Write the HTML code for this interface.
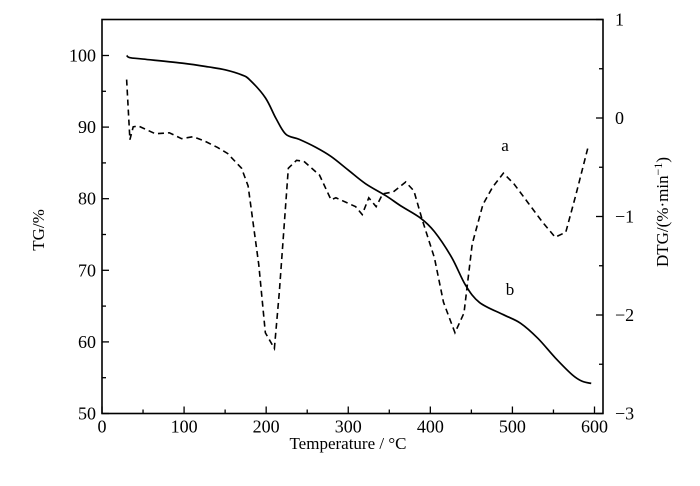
<!DOCTYPE html>
<html><head><meta charset="utf-8"><style>
html,body{margin:0;padding:0;background:#fff;}
svg text{font-family:"Liberation Serif",serif;fill:#000;}
</style></head><body>
<svg id="chart" width="700" height="481">
<g id="axes"></g><g id="series"></g>
<text x="505" y="151" font-size="17" text-anchor="middle">a</text>
<text x="510" y="295" font-size="17" text-anchor="middle">b</text>
<text transform="translate(44,230) rotate(-90)" font-size="17" text-anchor="middle">TG/%</text>
<text transform="translate(668,212) rotate(-90)" font-size="17" text-anchor="middle">DTG/(%·min<tspan dy="-6" font-size="12">−1</tspan><tspan dy="6">)</tspan></text>
<text x="348" y="449" font-size="17" text-anchor="middle">Temperature / °C</text>
</svg>
<script>
const tgTemps=[30,34,50,100,130,150,170,180,199,212,224,240,260,279,300,321,346,364,388,405,426,443,460,489,510,531,552,573,585,596];
const tgValues=[100,99.7,99.5,98.9,98.4,98.0,97.3,96.6,94.1,91.2,89.0,88.3,87.2,85.9,84.0,82.1,80.4,79.0,77.3,75.4,71.8,67.9,65.5,63.8,62.6,60.5,57.8,55.4,54.5,54.2];
const dtgTemps=[30,34,38,44,65,82,97,111,124,141,153,170,178,191,199,210,216,227,237,246,265,279,285,309,317,325,334,342,355,370,380,390,405,416,430,441,451,464,476,489,502,519,536,552,565,577,592];
const dtgValues=[0.39,-0.22,-0.09,-0.08,-0.16,-0.15,-0.21,-0.19,-0.23,-0.30,-0.36,-0.51,-0.69,-1.49,-2.18,-2.34,-1.77,-0.51,-0.43,-0.44,-0.58,-0.83,-0.81,-0.90,-0.98,-0.81,-0.90,-0.77,-0.75,-0.65,-0.74,-1.03,-1.42,-1.87,-2.18,-1.98,-1.28,-0.88,-0.70,-0.56,-0.67,-0.86,-1.05,-1.21,-1.16,-0.79,-0.30];
const xTicks=[0,100,200,300,400,500,600];
const yLeftTicks=[50,60,70,80,90,100];
const yRightTicks=[-3,-2,-1,0,1];
const NS="http://www.w3.org/2000/svg";
const L=102,R=603,T=19.5,B=413.5;
const xs=t=>102+t*(594.5-102)/600;
const yl=v=>413.5-(v-50)*(413.5-55.5)/50;
const yr=v=>413.5-(v+3)*(413.5-19.5)/4;
function mk(tag,attrs,parent){const e=document.createElementNS(NS,tag);for(const k in attrs)e.setAttribute(k,attrs[k]);parent.appendChild(e);return e;}
function smooth(p){let d='M'+p[0][0]+','+p[0][1];for(let i=0;i<p.length-1;i++){const a=p[Math.max(i-1,0)],b=p[i],c=p[i+1],e=p[Math.min(i+2,p.length-1)];
d+=' C'+(b[0]+(c[0]-a[0])/6)+','+(b[1]+(c[1]-a[1])/6)+' '+(c[0]-(e[0]-b[0])/6)+','+(c[1]-(e[1]-b[1])/6)+' '+c[0]+','+c[1];}return d;}
const ax=document.getElementById('axes'),se=document.getElementById('series');
const frame=mk('rect',{x:L,y:T,width:R-L,height:B-T,fill:'none',stroke:'#000','stroke-width':1.6},ax);


for(let t=0;t<=600;t+=50){const maj=t%100===0;const tk=mk('line',{x1:xs(t),x2:xs(t),y1:B,y2:B-(maj?7:4),stroke:'#000','stroke-width':1.3},ax);

}
xTicks.forEach(t=>{const e=mk('text',{x:xs(t),y:B+19,'font-size':18,'text-anchor':'middle'},ax);e.textContent=t;

});
for(let v=50;v<=100;v+=5){const maj=v%10===0;const tk=mk('line',{x1:L,x2:L+(maj?7:4),y1:yl(v),y2:yl(v),stroke:'#000','stroke-width':1.3},ax);

}
yLeftTicks.forEach(v=>{const e=mk('text',{x:L-6,y:yl(v)+6,'font-size':18,'text-anchor':'end'},ax);e.textContent=v;

});
for(let v=-3;v<=1;v+=0.5){const maj=Number.isInteger(v);const tk=mk('line',{x1:R,x2:R-(maj?7:4),y1:yr(v),y2:yr(v),stroke:'#000','stroke-width':1.3},ax);

}
yRightTicks.forEach(v=>{const e=mk('text',{x:R+12,y:yr(v)+6,'font-size':18,'text-anchor':'start'},ax);e.textContent=v<0?'−'+(-v):v;

});
const tgPath=mk('path',{d:smooth(tgTemps.map((t,i)=>[xs(t),yl(tgValues[i])])),fill:'none',stroke:'#000','stroke-width':1.7,'stroke-linejoin':'round'},se);


const dtgPath=mk('polyline',{points:dtgTemps.map((t,i)=>xs(t)+','+yr(dtgValues[i])).join(' '),fill:'none',stroke:'#000','stroke-width':1.6,'stroke-dasharray':'6,4'},se);


</script>
</body></html>
